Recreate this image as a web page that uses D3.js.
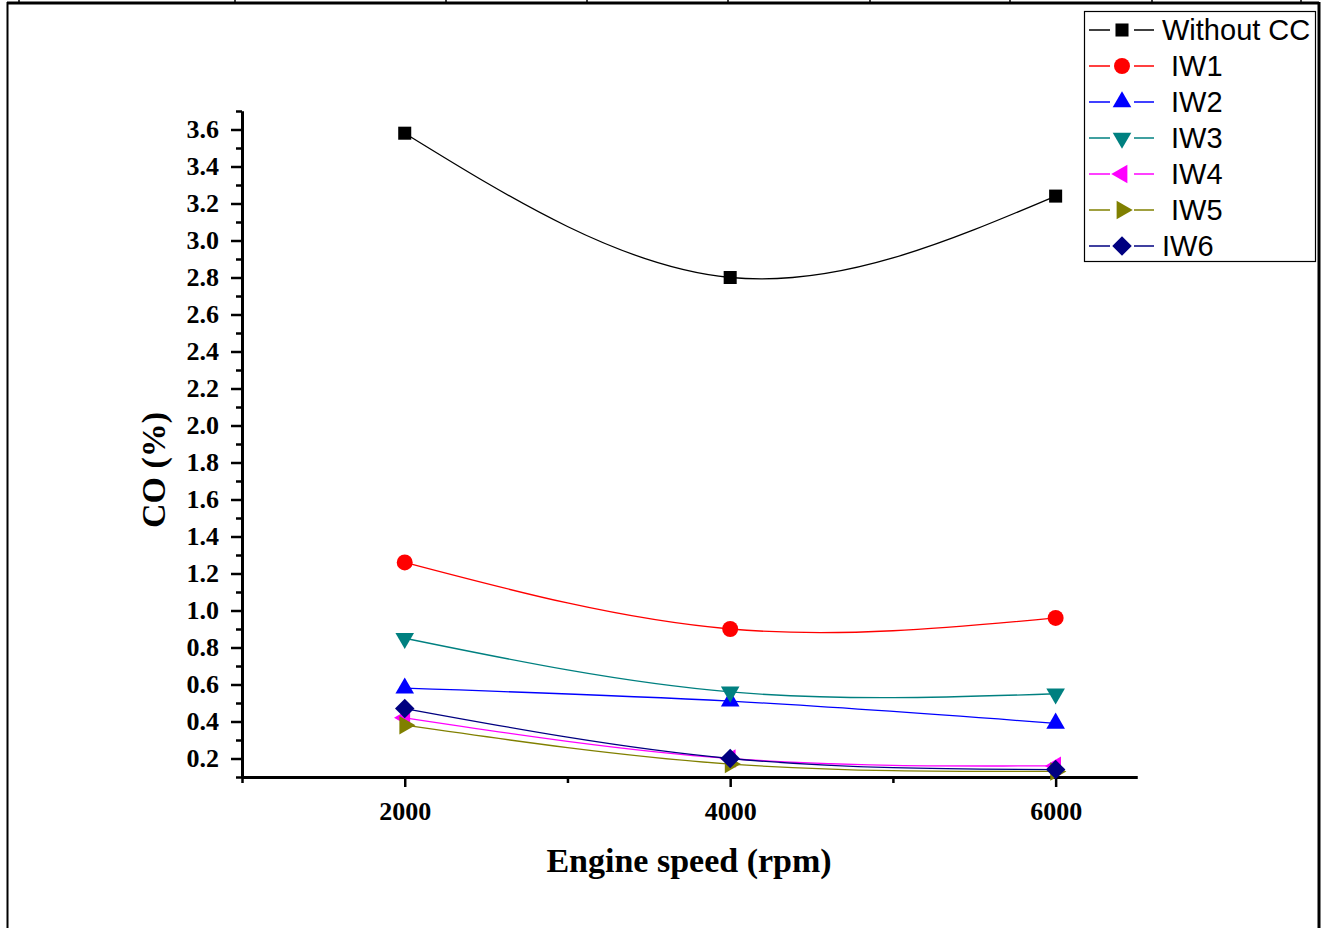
<!DOCTYPE html>
<html>
<head>
<meta charset="utf-8">
<script src="https://cdn.jsdelivr.net/npm/d3@7"></script>
<style>
  body { margin: 0; background: #fff; }
  svg { display: block; }
</style>
</head>
<body>
<svg class="chart" width="1324" height="928"></svg>
<script>
// engine speed (rpm)
var speeds = [2000, 4000, 6000];

// CO (%) per series
var names = ["Without CC", "IW1", "IW2", "IW3", "IW4", "IW5", "IW6"];
var withoutCC = [3.58, 2.80, 3.24];
var iw1 = [1.26, 0.90, 0.96];
var iw2 = [0.58, 0.51, 0.39];
var iw3 = [0.85, 0.56, 0.55];
var iw4 = [0.42, 0.20, 0.16];
var iw5 = [0.38, 0.17, 0.13];
var iw6 = [0.47, 0.20, 0.14];

var yTicks = [0.2, 0.4, 0.6, 0.8, 1.0, 1.2, 1.4, 1.6, 1.8, 2.0, 2.2, 2.4, 2.6, 2.8, 3.0, 3.2, 3.4, 3.6];
var xTicks = [2000, 4000, 6000];

var colors = ["#000000", "#ff0000", "#0000ff", "#008080", "#ff00ff", "#808000", "#000080"];
var shapes = ["square", "circle", "up", "down", "left", "right", "diamond"];
var allValues = [withoutCC, iw1, iw2, iw3, iw4, iw5, iw6];

var chart = d3.select(".chart");

// outer frame (page table border)
chart.append("line").attr("x1", 7).attr("x2", 1319).attr("y1", 3).attr("y2", 3)
  .attr("stroke", "#000").attr("stroke-width", 3);
chart.append("line").attr("x1", 7.5).attr("x2", 7.5).attr("y1", 2).attr("y2", 928)
  .attr("stroke", "#000").attr("stroke-width", 2);
chart.append("line").attr("x1", 1319).attr("x2", 1319).attr("y1", 2).attr("y2", 928)
  .attr("stroke", "#000").attr("stroke-width", 3);
[19, 235, 446, 587, 728, 870, 1010, 1152, 1301].forEach(function(d) {
  chart.append("line").attr("x1", d).attr("x2", d).attr("y1", 0).attr("y2", 3)
    .attr("stroke", "#000").attr("stroke-width", 1.5);
});

var x = d3.scaleLinear().domain([1000, 6500]).range([242, 1137]);
var y = d3.scaleLinear().domain([0.1, 3.7]).range([777, 111]);

// minor ticks
var yMinor = d3.range(0.1, 3.71, 0.2);
var xMinor = [1000, 3000, 5000];

var yMinorAxis = chart.append("g").attr("transform", "translate(242,0)")
  .call(d3.axisLeft(y).tickValues(yMinor).tickSize(6).tickFormat("").tickSizeOuter(0));
var xMinorAxis = chart.append("g").attr("transform", "translate(0,777)")
  .call(d3.axisBottom(x).tickValues(xMinor).tickSize(6).tickFormat("").tickSizeOuter(0));

var yAxis = chart.append("g").attr("transform", "translate(242,0)")
  .call(d3.axisLeft(y).tickValues(yTicks).tickSize(11).tickPadding(12).tickSizeOuter(0)
    .tickFormat(d3.format(".1f")));
var xAxis = chart.append("g").attr("transform", "translate(0,777)")
  .call(d3.axisBottom(x).tickValues(xTicks).tickSize(10).tickPadding(15).tickSizeOuter(0)
    .tickFormat(d3.format("d")));

[yMinorAxis, xMinorAxis, yAxis, xAxis].forEach(function(a) {
  a.select(".domain").attr("stroke", "#000").attr("stroke-width", 3);
  a.selectAll(".tick line").attr("stroke", "#000").attr("stroke-width", 2.5);
  a.selectAll(".tick text")
    .style("font-family", "'Liberation Serif', 'Times New Roman', serif")
    .style("font-weight", "bold")
    .style("font-size", "26px")
    .attr("fill", "#000");
});

// axis titles
chart.append("text")
  .attr("transform", "translate(165,470) rotate(-90)")
  .attr("text-anchor", "middle")
  .style("font-family", "'Liberation Serif', 'Times New Roman', serif")
  .style("font-weight", "bold").style("font-size", "34px")
  .text("CO (%)");
chart.append("text")
  .attr("x", 689).attr("y", 872)
  .attr("text-anchor", "middle")
  .style("font-family", "'Liberation Serif', 'Times New Roman', serif")
  .style("font-weight", "bold").style("font-size", "34px")
  .text("Engine speed (rpm)");

function markerPath(shape) {
  if (shape == "square") return d3.symbol().type(d3.symbolSquare).size(170)();
  if (shape == "circle") return d3.symbol().type(d3.symbolCircle).size(200)();
  if (shape == "diamond") return d3.symbol().type(d3.symbolSquare).size(190)();
  return d3.symbol().type(d3.symbolTriangle).size(150)();
}
function markerRotate(shape) {
  if (shape == "down") return 180;
  if (shape == "left") return -90;
  if (shape == "right") return 90;
  if (shape == "diamond") return 45;
  return 0;
}

var line = d3.line()
  .x(function(d) { return x(d.x); })
  .y(function(d) { return y(d.y); })
  .curve(d3.curveNatural);

allValues.forEach(function(vals, i) {
  var pts = speeds.map(function(s, j) { return { x: s, y: vals[j] }; });
  chart.append("path")
    .attr("d", line(pts))
    .attr("fill", "none")
    .attr("stroke", colors[i])
    .attr("stroke-width", 1.3);
  chart.selectAll(".m" + i).data(pts).enter().append("path")
    .attr("class", "m" + i)
    .attr("d", markerPath(shapes[i]))
    .attr("transform", function(d) {
      return "translate(" + x(d.x) + "," + y(d.y) + ") rotate(" + markerRotate(shapes[i]) + ")";
    })
    .attr("fill", colors[i]);
});

// legend
var legend = chart.append("g");
legend.append("rect").attr("x", 1084.5).attr("y", 11.5).attr("width", 231).attr("height", 250)
  .attr("fill", "#fff").attr("stroke", "#000").attr("stroke-width", 1.2);
var labelX = [1162, 1171, 1171, 1171, 1171, 1171, 1162];
names.forEach(function(n, i) {
  var cy = 30 + i * 36;
  legend.append("line").attr("x1", 1089).attr("x2", 1154).attr("y1", cy).attr("y2", cy)
    .attr("stroke", colors[i]).attr("stroke-width", 1.3);
  legend.append("rect").attr("x", 1110).attr("y", cy - 8).attr("width", 24).attr("height", 16)
    .attr("fill", "#fff");
  legend.append("path")
    .attr("d", markerPath(shapes[i]))
    .attr("transform", "translate(1122," + cy + ") rotate(" + markerRotate(shapes[i]) + ")")
    .attr("fill", colors[i]);
  legend.append("text")
    .attr("x", labelX[i]).attr("y", cy).attr("dy", "0.36em")
    .style("font-family", "'Liberation Sans', Arial, sans-serif")
    .style("font-size", "29px")
    .attr("fill", "#000")
    .text(n);
});
</script>
</body>
</html>
